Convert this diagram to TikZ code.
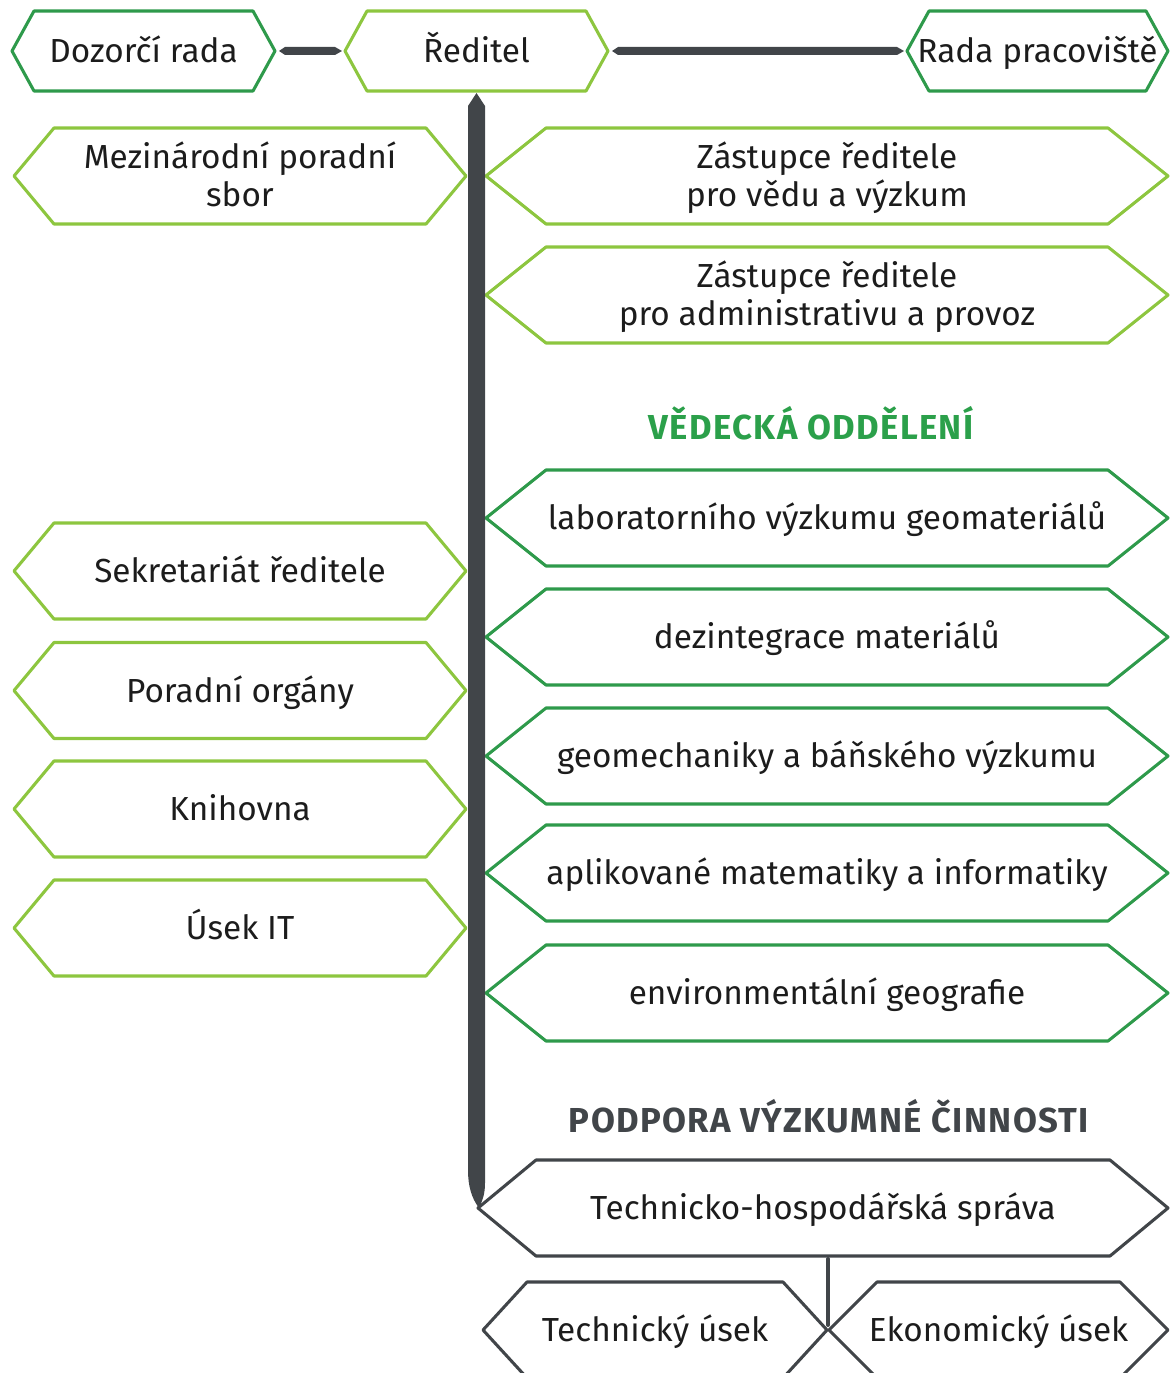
\documentclass[tikz,border=0pt]{standalone}
\usepackage{fontspec}
\setmainfont{Fira Sans}
\usetikzlibrary{calc}
\definecolor{lgreen}{HTML}{8DC63F}
\definecolor{dgreen}{HTML}{2E9A4B}
\definecolor{hgreen}{HTML}{2BA04A}
\definecolor{dgray}{HTML}{414549}
\definecolor{txt}{HTML}{1C1C1C}
\tikzset{
  boxtext/.style={inner sep=0pt, outer sep=0pt, align=center,
    font=\fontsize{25}{28.5}\selectfont, text=txt,
    text height=17.3pt, text depth=0pt},
  twoline/.style={text height=45.8pt, text depth=0pt},
  lightbox/.style={draw=lgreen, line width=2.3pt, line join=round},
  darkbox/.style={draw=dgreen, line width=2.3pt, line join=round},
  graybox/.style={draw=dgray, line width=2.3pt, line join=round},
  heading/.style={inner sep=0pt, text height=18pt, text depth=0pt,
    font=\fontsize{26}{28}\selectfont\bfseries\addfontfeature{LetterSpace=4}},
  barfill/.style={fill=dgray},
  thinbar/.style={draw=dgray, line width=3pt, line cap=round},
}
% [extra node options] name, cx, cy, w, h, tip depth, style, text
\newcommand\hexbox[9][]{%
  \node[boxtext, #1, minimum width={#5*0.75pt}, minimum height={#6*0.75pt}] (#2) at (#3,#4) {#9};
  \draw[#8] (#2.west) -- ([xshift={#7*0.75pt}]#2.north west)
    -- ([xshift={-#7*0.75pt}]#2.north east) -- (#2.east)
    -- ([xshift={-#7*0.75pt}]#2.south east)
    -- ([xshift={#7*0.75pt}]#2.south west) -- cycle;
}
\begin{document}
\begin{tikzpicture}[x=0.75pt,y=-0.75pt]
\useasboundingbox (0,0) rectangle (1171,1373);
\clip (0,0) rectangle (1171,1373);

% top row
\hexbox{dozor}{143.5}{51}{263}{80}{22}{darkbox}{Dozorčí rada}
\hexbox{reditel}{476.5}{51}{263}{80}{22}{lightbox}{Ředitel}
\hexbox{rada}{1037.5}{51}{261}{80}{22}{darkbox}{Rada pracoviště}

% left column
\hexbox[twoline]{mez}{240}{176}{452}{96}{40}{lightbox}{Mezinárodní poradní\\sbor}
\hexbox{sekr}{240}{571}{452}{96}{40}{lightbox}{Sekretariát ředitele}
\hexbox{porad}{240}{690.5}{452}{96}{40}{lightbox}{Poradní orgány}
\hexbox{knih}{240}{809}{452}{96}{40}{lightbox}{Knihovna}
\hexbox{usek}{240}{928}{452}{96}{40}{lightbox}{Úsek IT}

% right column
\hexbox[twoline]{zast1}{827}{176}{682}{96}{60}{lightbox}{Zástupce ředitele\\pro vědu a výzkum}
\hexbox[twoline]{zast2}{827}{295}{682}{96}{60}{lightbox}{Zástupce ředitele\\pro administrativu a provoz}

\node[heading, text=hgreen] (hved) at (811,427) {VĚDECKÁ ODDĚLENÍ};

\hexbox{lab}{827}{518}{682}{96}{60}{darkbox}{laboratorního výzkumu geomateriálů}
\hexbox{dez}{827}{637}{682}{96}{60}{darkbox}{dezintegrace materiálů}
\hexbox{geo}{827}{756}{682}{96}{60}{darkbox}{geomechaniky a báňského výzkumu}
\hexbox{apl}{827}{873}{682}{96}{60}{darkbox}{aplikované matematiky a informatiky}
\hexbox{env}{827}{993}{682}{96}{60}{darkbox}{environmentální geografie}

\node[heading, text=dgray] (hpod) at (829,1120) {PODPORA VÝZKUMNÉ ČINNOSTI};

\hexbox{ths}{823}{1208}{690}{96}{58}{graybox}{Technicko-hospodářská správa}
\hexbox{tech}{655}{1330}{344}{96}{44}{graybox}{Technický úsek}
\hexbox{eko}{998.5}{1330}{339}{96}{48}{graybox}{Ekonomický úsek}

% horizontal connectors with pointed ends
\fill[barfill] ($(dozor.east)+(4,0)$) -- ($(dozor.east)+(10,-4)$)
  -- ($(reditel.west)+(-10,-4)$) -- ($(reditel.west)+(-3,0)$)
  -- ($(reditel.west)+(-10,4)$) -- ($(dozor.east)+(10,4)$) -- cycle;
\fill[barfill] ($(reditel.east)+(4,0)$) -- ($(reditel.east)+(10,-4)$)
  -- ($(rada.west)+(-10,-4)$) -- ($(rada.west)+(-3,0)$)
  -- ($(rada.west)+(-10,4)$) -- ($(reditel.east)+(10,4)$) -- cycle;

% main vertical bar
\coordinate (vb) at (reditel.south |- ths.west);
\fill[barfill] ($(reditel.south)+(0,2)$) -- ($(reditel.south)+(8.5,15)$)
  -- ($(vb)+(8.5,-25)$)
  .. controls ($(vb)+(8.5,-12)$) and ($(vb)+(5,-6)$) .. ($(ths.west)+(1,0)$)
  .. controls ($(vb)+(-5,-10)$) and ($(vb)+(-8.5,-22)$) .. ($(vb)+(-8.5,-38)$)
  -- ($(reditel.south)+(-8.5,15)$) -- cycle;

% bottom connector
\coordinate (junc) at ($(tech.east)!0.5!(eko.west)+(0,-5)$);
\draw[thinbar] (junc) -- ($(junc |- ths.south)+(0,3)$);
\end{tikzpicture}
\end{document}
